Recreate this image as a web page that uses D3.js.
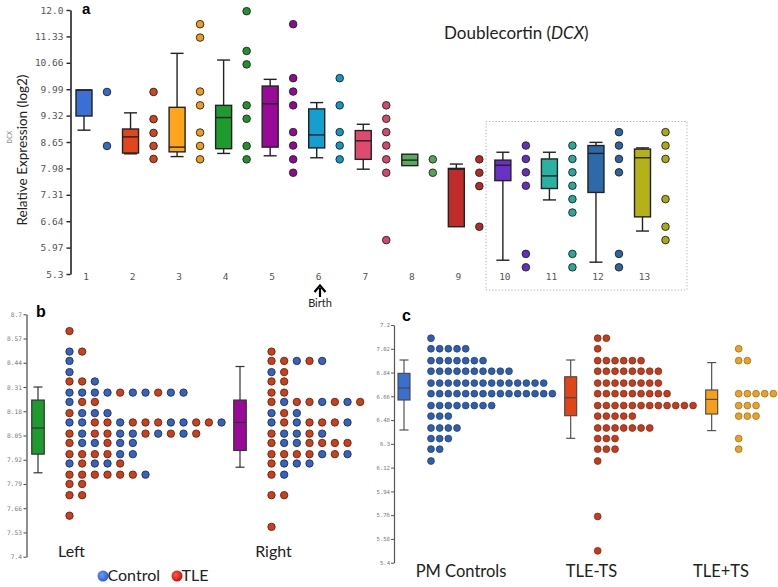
<!DOCTYPE html>
<html><head><meta charset="utf-8">
<script src="https://cdn.jsdelivr.net/npm/d3@7"></script>
<style>body{margin:0;background:#fff}svg{display:block}</style>
</head><body>
<svg id="chart" width="778" height="587"></svg>
<script>
// ---------- Panel a data ----------
const catsA = [1,2,3,4,5,6,7,8,9,10,11,12,13];
const colorsA = ["#3b6fd5","#e2461b","#ffa41d","#1f9a2f","#990a99","#139fcf","#e04a70","#5aaa5c","#c02b2b","#6a31c9","#29b2a2","#2e6aaa","#b4b119"];
const loA  = [8.95,8.35,8.28,8.36,8.30,8.25,7.96,8.05,6.50,5.65,7.18,5.60,6.39];
const q1A  = [9.31,8.37,8.40,8.48,8.52,8.50,8.21,8.05,6.50,7.67,7.47,7.37,6.75];
const medA = [9.97,8.78,8.52,9.27,9.62,8.83,8.68,8.19,7.96,8.06,7.79,8.36,8.25];
const q3A  = [9.97,8.98,9.53,9.58,10.07,9.49,8.94,8.34,7.98,8.19,8.22,8.56,8.47];
const hiA  = [9.97,9.39,10.90,10.73,10.24,9.65,9.10,8.34,8.09,8.39,8.39,8.64,8.50];
const dotsA = [
  [9.92,8.55],
  [9.92,9.23,8.88,8.55,8.22],
  [11.64,11.30,9.93,9.58,8.89,8.55,8.21],
  [11.97,10.96,10.62,9.58,9.24,8.55,8.21],
  [11.64,10.27,9.93,9.58,8.90,8.56,8.21,7.87],
  [10.27,9.58,8.90,8.56,8.21],
  [9.58,9.24,8.90,8.56,8.21,7.87,6.16],
  [8.21,7.87],
  [8.21,7.87,7.53,6.50],
  [8.56,8.22,7.88,7.54,5.81,5.47],
  [8.56,8.22,7.88,7.54,7.20,6.86,5.81,5.47],
  [8.90,8.56,8.22,7.88,5.81,5.47],
  [8.90,8.56,8.22,7.20,6.50,6.16]
];
const ticksA = ["12.0","11.33","10.66","9.99","9.32","8.65","7.98","7.31","6.64","5.97","5.3"];

// ---------- Panel b data ----------
const groupsB = ["Left","Right"];
const boxB = { lo:[7.85,7.88], q1:[7.95,7.97], med:[8.09,8.12], q3:[8.24,8.24], hi:[8.31,8.42] };
const colorsBoxB = ["#1f9a2f","#990a99"];
const leftRows = [
  [8.61,"R"],[8.50,"BR"],[8.45,"B"],[8.39,"B"],[8.34,"RRB"],[8.28,"BBBBRBBRBB"],
  [8.23,"BRR"],[8.17,"RBBB"],[8.12,"BBRRBRRRBBRRB"],[8.06,"RBRRBBRBRBR"],
  [8.01,"RBBRBB"],[7.95,"RRRRBB"],[7.90,"BRBBR"],[7.84,"RRRRRRB"],[7.79,"RR"],[7.73,"RR"],[7.62,"R"]
];
const rightRows = [
  [8.50,"R"],[8.45,"RRBRB"],[8.39,"BR"],[8.34,"RR"],[8.28,"RR"],[8.23,"RBRRBRBR"],
  [8.17,"BRB"],[8.12,"BRBRRRB"],[8.06,"RBBRB"],[8.01,"RBBRRRR"],[7.95,"RRRRBRB"],
  [7.90,"RBBB"],[7.84,"RB"],[7.73,"RR"],[7.56,"R"]
];
const ticksB = ["8.7","8.57","8.44","8.31","8.18","8.05","7.92","7.79","7.66","7.53","7.4"];
const legendB = ["Control","TLE"];

// ---------- Panel c data ----------
const groupsC = ["PM Controls","TLE-TS","TLE+TS"];
const boxC = { lo:[6.405,6.342,6.40], q1:[6.632,6.513,6.526], med:[6.723,6.649,6.637], q3:[6.834,6.808,6.708], hi:[6.935,6.935,6.915] };
const colorsC = ["#3a6fd0","#e04418","#f5a01a"];
const dotColorsC = ["#2f5db0","#c33c1c","#eba126"];
const pmRows = [[7.10,1],[7.02,5],[6.93,7],[6.85,10],[6.76,14],[6.68,15],[6.59,8],[6.51,3],[6.42,4],[6.34,3],[6.26,2],[6.17,1]];
const tleNoTsRows = [[7.10,2],[7.02,1],[6.93,6],[6.85,8],[6.76,8],[6.68,9],[6.59,12],[6.51,5],[6.42,7],[6.34,3],[6.26,3],[6.17,1],[5.75,1],[5.49,1]];
const tleTsRows = [[7.02,1],[6.93,2],[6.68,5],[6.59,3],[6.51,3],[6.34,1],[6.26,1]];
const ticksC = ["7.2","7.02","6.84","6.66","6.48","6.3","6.12","5.94","5.76","5.58","5.4"];

// ---------- Drawing ----------
const svg = d3.select("#chart");
svg.append("rect").attr("width",778).attr("height",587).attr("fill","#fff");
const sans = "Lato, 'Open Sans', sans-serif";
const mono = "'DejaVu Sans Mono', monospace";

function drawBox(g, x, y, lo, q1, med, q3, hi, w, cap, fill, stroke, sw) {
  g.append("line").attr("x1",x).attr("x2",x).attr("y1",y(hi)).attr("y2",y(q3)).attr("stroke",stroke).attr("stroke-width",sw);
  g.append("line").attr("x1",x).attr("x2",x).attr("y1",y(q1)).attr("y2",y(lo)).attr("stroke",stroke).attr("stroke-width",sw);
  if (y(hi) < y(q3) - 0.5) g.append("line").attr("x1",x-cap/2).attr("x2",x+cap/2).attr("y1",y(hi)).attr("y2",y(hi)).attr("stroke",stroke).attr("stroke-width",sw);
  if (y(lo) > y(q1) + 0.5) g.append("line").attr("x1",x-cap/2).attr("x2",x+cap/2).attr("y1",y(lo)).attr("y2",y(lo)).attr("stroke",stroke).attr("stroke-width",sw);
  g.append("rect").attr("x",x-w/2).attr("y",y(q3)).attr("width",w).attr("height",Math.max(1,y(q1)-y(q3)))
    .attr("fill",fill).attr("stroke",stroke).attr("stroke-width",sw);
  g.append("line").attr("x1",x-w/2).attr("x2",x+w/2).attr("y1",y(med)).attr("y2",y(med)).attr("stroke",stroke).attr("stroke-width",sw);
}

// ===== Panel a =====
const yA = d3.scaleLinear().domain([5.3,12]).range([274,10]);
const xA = d3.scalePoint().domain(catsA).range([84,642.5]);
const gA = svg.append("g");
const axA = d3.axisLeft(yA).tickValues(ticksA.map(Number)).tickFormat((d,i)=>ticksA[i]).tickSize(4).tickSizeOuter(0);
const axAg = gA.append("g").attr("transform","translate(70.5,0)").call(axA);
axAg.select(".domain").attr("stroke","#222").attr("stroke-width",1.6);
axAg.selectAll(".tick line").attr("stroke","#222").attr("stroke-width",1.4);
axAg.selectAll(".tick text").attr("font-family",mono).attr("font-size",9.5).attr("fill","#555").attr("x",-7);

gA.append("rect").attr("x",486).attr("y",121.5).attr("width",201).attr("height",168.5)
  .attr("fill","none").attr("stroke","#9fb3c8").attr("stroke-width",1).attr("stroke-dasharray","1.2,2");

catsA.forEach((c,i)=>{
  const x = xA(c);
  drawBox(gA, x, yA, loA[i], q1A[i], medA[i], q3A[i], hiA[i], 16, 13, colorsA[i], "#222", 1.4);
  const dc = d3.color(colorsA[i]).darker(0.15).formatHex();
  gA.selectAll(null).data(dotsA[i]).enter().append("circle")
    .attr("cx", x+23).attr("cy", d=>yA(d)).attr("r",3.8)
    .attr("fill",dc).attr("stroke","#222").attr("stroke-width",0.9);
  gA.append("text").attr("x",x+2).attr("y",280).attr("text-anchor","middle")
    .attr("font-family",mono).attr("font-size",9.5).attr("fill","#555").text(c);
});

gA.append("text").attr("x",82).attr("y",14).attr("font-family","'Liberation Sans', Arial, sans-serif")
  .attr("font-weight","bold").attr("font-size",15).text("a");
gA.append("text").attr("transform","translate(12,137) rotate(-90)").attr("text-anchor","middle")
  .attr("font-family",mono).attr("font-size",7).attr("fill","#888").text("DCX");
gA.append("text").attr("transform","translate(27,150) rotate(-90)").attr("text-anchor","middle")
  .attr("font-family",sans).attr("font-size",13.5).attr("fill","#222").text("Relative Expression (log2)");
const title = gA.append("text").attr("x",444).attr("y",39).attr("font-family",sans).attr("font-size",17).attr("fill","#222");
title.append("tspan").text("Doublecortin (");
title.append("tspan").attr("font-style","italic").text("DCX");
title.append("tspan").text(")");

// Birth arrow
gA.append("path").attr("d","M320,297 L320,288").attr("stroke","#000").attr("stroke-width",2.2);
gA.append("path").attr("d","M314.5,292 L320,285.5 L325.5,292").attr("fill","none").attr("stroke","#000").attr("stroke-width",2.2);
gA.append("text").attr("x",320).attr("y",307).attr("text-anchor","middle").attr("font-family",sans).attr("font-size",11).attr("fill","#222").text("Birth");

// ===== Panel b =====
const yB = d3.scaleLinear().domain([7.4,8.7]).range([556.7,314.3]);
const xB = d3.scalePoint().domain(groupsB).range([38,240]);
const gB = svg.append("g");
const axB = d3.axisLeft(yB).tickValues(ticksB.map(Number)).tickFormat((d,i)=>ticksB[i]).tickSize(3).tickSizeOuter(0);
const axBg = gB.append("g").attr("transform","translate(26.5,0)").call(axB);
axBg.select(".domain").attr("stroke","#444").attr("stroke-width",1.2);
axBg.selectAll(".tick line").attr("stroke","#444");
axBg.selectAll(".tick text").attr("font-family",mono).attr("font-size",6.2).attr("fill","#777").attr("x",-4.5);
gB.append("text").attr("x",36).attr("y",317).attr("font-family","'Liberation Sans', Arial, sans-serif")
  .attr("font-weight","bold").attr("font-size",16).text("b");

const bColors = {B:{f:"#3563bd",s:"#1d2f5e"}, R:{f:"#c8401c",s:"#6d220e"}};
[leftRows, rightRows].forEach((rows,gi)=>{
  const x0 = xB(groupsB[gi]);
  drawBox(gB, x0, yB, boxB.lo[gi], boxB.q1[gi], boxB.med[gi], boxB.q3[gi], boxB.hi[gi], 12.5, 9, colorsBoxB[gi], "#333", 1.2);
  rows.forEach(([v,str])=>{
    str.split("").forEach((ch,k)=>{
      gB.append("circle").attr("cx", x0+31.5+k*12.67).attr("cy", yB(v)).attr("r",3.7)
        .attr("fill",bColors[ch].f).attr("stroke",bColors[ch].s).attr("stroke-width",0.9);
    });
  });
  gB.append("text").attr("x",x0+33.5).attr("y",557).attr("text-anchor","middle")
    .attr("font-family",sans).attr("font-size",16).attr("fill","#222").text(groupsB[gi]);
});

// legend
const defs = svg.append("defs");
[["gBlue","#6b9bff","#2a5fd8"],["gRed","#ff5a4a","#c81010"]].forEach(([id,c1,c2])=>{
  const rg = defs.append("radialGradient").attr("id",id).attr("cx","40%").attr("cy","40%").attr("r","60%");
  rg.append("stop").attr("offset","0%").attr("stop-color",c1);
  rg.append("stop").attr("offset","100%").attr("stop-color",c2);
});
const legX = [103,177];
legendB.forEach((t,i)=>{
  gB.append("circle").attr("cx",legX[i]).attr("cy",576).attr("r",5.5).attr("fill",`url(#${i?"gRed":"gBlue"})`);
  gB.append("text").attr("x",legX[i]+4.5).attr("y",581).attr("font-family",sans).attr("font-size",16).attr("fill","#222").text(t);
});

// ===== Panel c =====
const yC = d3.scaleLinear().domain([5.4,7.2]).range([562.7,325]);
const xC = d3.scaleOrdinal().domain(groupsC).range([404,570.7,711.7]);
const xCLabel = d3.scaleOrdinal().domain(groupsC).range([461,591.5,721]);
const gC = svg.append("g");
const axC = d3.axisLeft(yC).tickValues(ticksC.map(Number)).tickFormat((d,i)=>ticksC[i]).tickSize(3).tickSizeOuter(0);
const axCg = gC.append("g").attr("transform","translate(394,0)").call(axC);
axCg.select(".domain").attr("stroke","#555").attr("stroke-width",1.2);
axCg.selectAll(".tick line").attr("stroke","#555");
axCg.selectAll(".tick text").attr("font-family",mono).attr("font-size",5.6).attr("fill","#777").attr("x",-4);
gC.append("text").attr("x",402).attr("y",321).attr("font-family","'Liberation Sans', Arial, sans-serif")
  .attr("font-weight","bold").attr("font-size",16).text("c");

[pmRows, tleNoTsRows, tleTsRows].forEach((rows,gi)=>{
  const grp = groupsC[gi];
  const x0 = xC(grp);
  drawBox(gC, x0, yC, boxC.lo[gi], boxC.q1[gi], boxC.med[gi], boxC.q3[gi], boxC.hi[gi], 12, 9, colorsC[gi], "#444", 1.1);
  const fc = dotColorsC[gi];
  const sc = d3.color(fc).darker(1).formatHex();
  rows.forEach(([v,n])=>{
    d3.range(n).forEach(k=>{
      gC.append("circle").attr("cx", x0+27+k*8.67).attr("cy", yC(v)).attr("r",3.4)
        .attr("fill",fc).attr("stroke",sc).attr("stroke-width",0.8);
    });
  });
  gC.append("text").attr("x",xCLabel(grp)).attr("y",577).attr("text-anchor","middle")
    .attr("font-family",sans).attr("font-size",16.5).attr("fill","#222").text(grp);
});
</script>
</body></html>
